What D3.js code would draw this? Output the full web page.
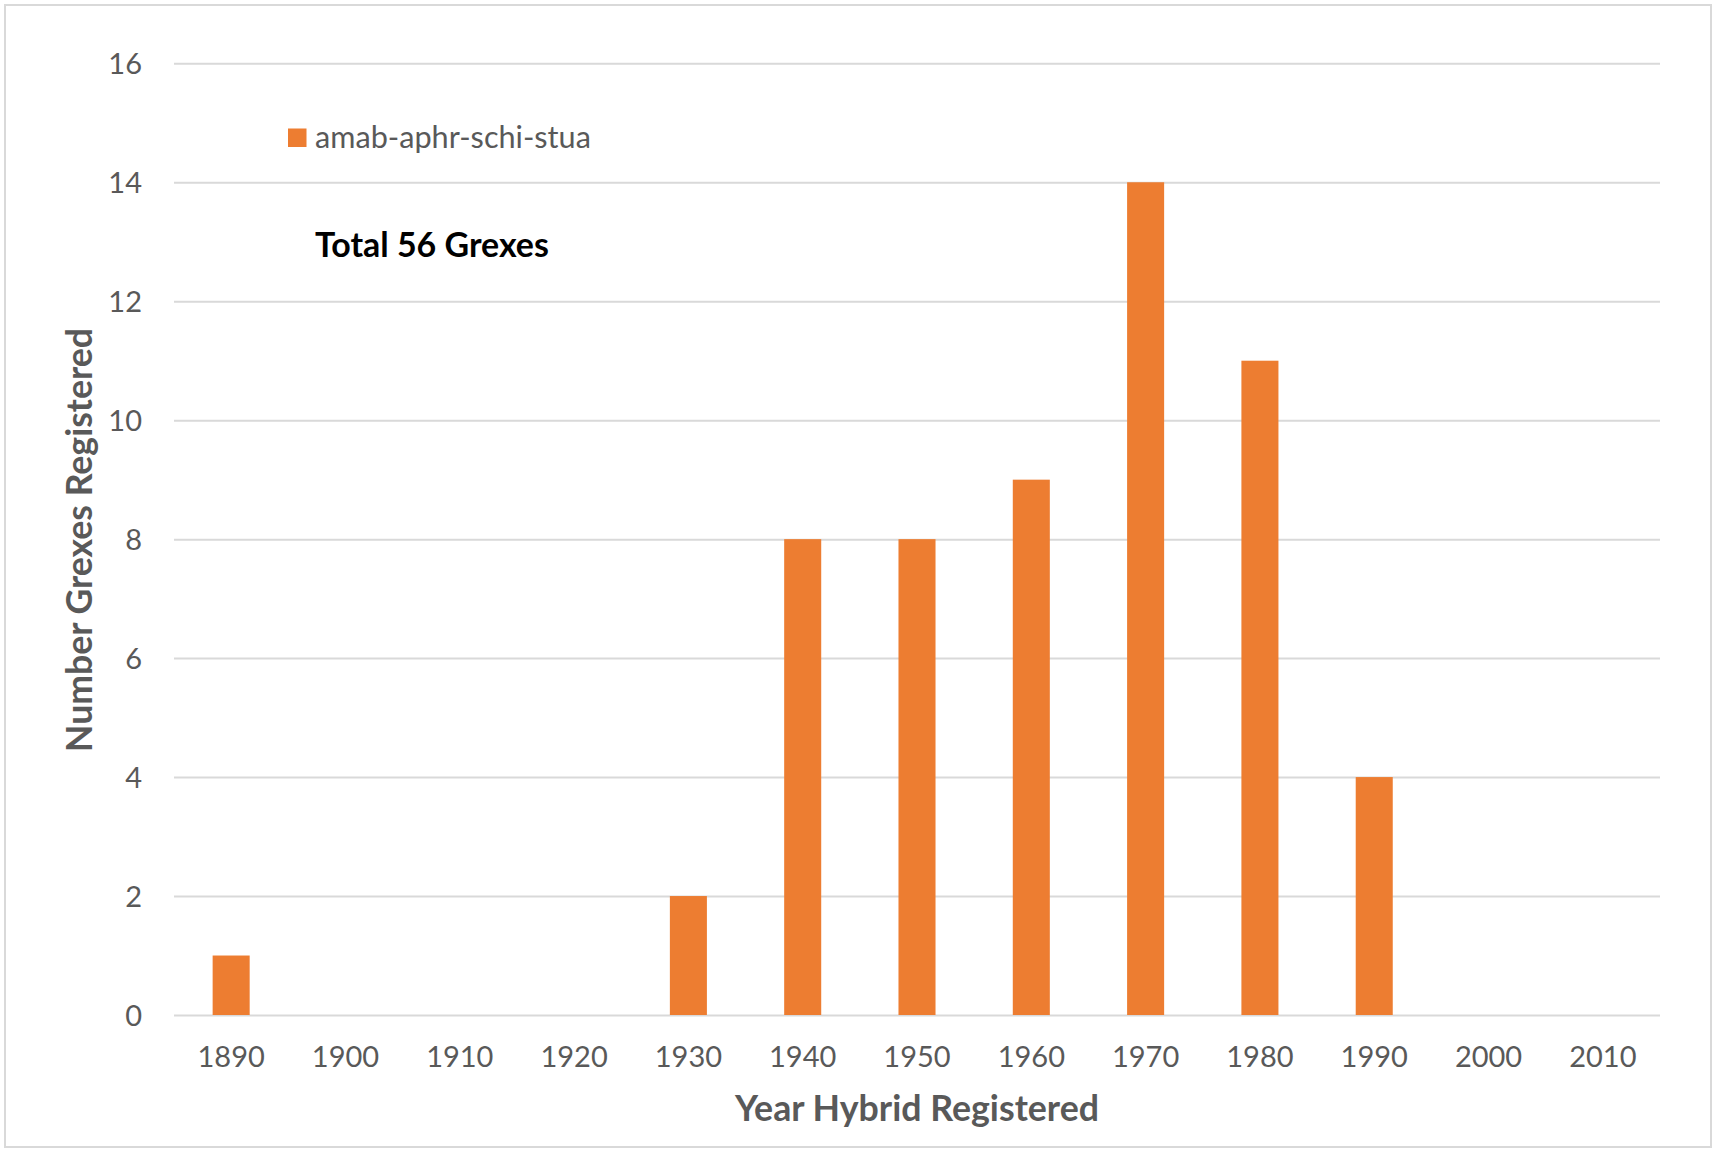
<!DOCTYPE html>
<html>
<head>
<meta charset="utf-8">
<script src="https://cdn.jsdelivr.net/npm/d3@7"></script>
<style>
  html, body { margin: 0; padding: 0; background: #fff; }
  svg { display: block; font-family: Lato, "Open Sans", sans-serif; }
</style>
</head>
<body>
<svg id="chart" width="1715" height="1151"></svg>
<script>
// ---- data ----
const categories = ["1890","1900","1910","1920","1930","1940","1950","1960","1970","1980","1990","2000","2010"];
const seriesName = "amab-aphr-schi-stua";
const values = [1, 0, 0, 0, 2, 8, 8, 9, 14, 11, 4, 0, 0];
const yTicks = [0, 2, 4, 6, 8, 10, 12, 14, 16];
const annotation = "Total 56 Grexes";
const xTitle = "Year Hybrid Registered";
const yTitle = "Number Grexes Registered";

// ---- layout ----
const W = 1715, H = 1151;
const plot = { left: 174, right: 1660, top: 63.3, bottom: 1015 };
const orange = "#ED7D31", grid = "#D9D9D9", textGray = "#595959";

const svg = d3.select("#chart");
svg.append("rect").attr("x", 5).attr("y", 5).attr("width", 1706).attr("height", 1142)
  .attr("fill", "#fff").attr("stroke", grid).attr("stroke-width", 2);

const x = d3.scaleBand().domain(categories).range([plot.left, plot.right])
  .paddingInner(0.676).paddingOuter(0.338);
const y = d3.scaleLinear().domain([0, 16]).range([plot.bottom, plot.top]);

function fit(sel, target) {
  let fs = parseFloat(sel.attr("font-size"));
  const w = sel.node().getComputedTextLength();
  if (w > 0) sel.attr("font-size", (fs * target / w).toFixed(2));
  return sel;
}

// gridlines + y axis labels
const yAxis = d3.axisLeft(y).tickValues(yTicks).tickSize(-(plot.right - plot.left)).tickPadding(32);
const gy = svg.append("g").attr("transform", `translate(${plot.left},0)`).call(yAxis);
gy.select(".domain").remove();
gy.selectAll(".tick line").attr("stroke", grid).attr("stroke-width", 2);
gy.selectAll(".tick text").attr("fill", textGray).attr("font-size", 29)
  .attr("font-family", "Lato, sans-serif").attr("dy", "0.36em");

// bars
svg.append("g").selectAll("rect").data(categories).join("rect")
  .attr("x", d => x(d))
  .attr("width", x.bandwidth())
  .attr("y", (d, i) => y(values[i]))
  .attr("height", (d, i) => y(0) - y(values[i]))
  .attr("fill", orange);

// x axis labels
const xAxis = d3.axisBottom(x).tickSize(0).tickPadding(0);
const gx = svg.append("g").attr("transform", `translate(0,${plot.bottom})`).call(xAxis);
gx.select(".domain").remove();
gx.selectAll(".tick text").attr("fill", textGray).attr("font-size", 29)
  .attr("font-family", "Lato, sans-serif").attr("dy", null).attr("y", 52);

// x title
const xt = svg.append("text").attr("x", (plot.left + plot.right) / 2).attr("y", 1121)
  .attr("text-anchor", "middle").attr("font-weight", "bold").attr("font-size", 32)
  .attr("fill", textGray).text(xTitle);
fit(xt, 364);

// y title
const yt = svg.append("text").attr("transform", "translate(92,540) rotate(-90)")
  .attr("text-anchor", "middle").attr("font-weight", "bold").attr("font-size", 32)
  .attr("fill", textGray).text(yTitle);
fit(yt, 424);

// legend
svg.append("rect").attr("x", 288).attr("y", 128.5).attr("width", 18.5).attr("height", 18.5).attr("fill", orange);
const lt = svg.append("text").attr("x", 315).attr("y", 147.5).attr("font-size", 28)
  .attr("fill", textGray).text(seriesName);
fit(lt, 276);

// annotation
const at = svg.append("text").attr("x", 315).attr("y", 257).attr("font-size", 32)
  .attr("font-weight", "bold").attr("fill", "#000").text(annotation);
fit(at, 234);
</script>
</body>
</html>
